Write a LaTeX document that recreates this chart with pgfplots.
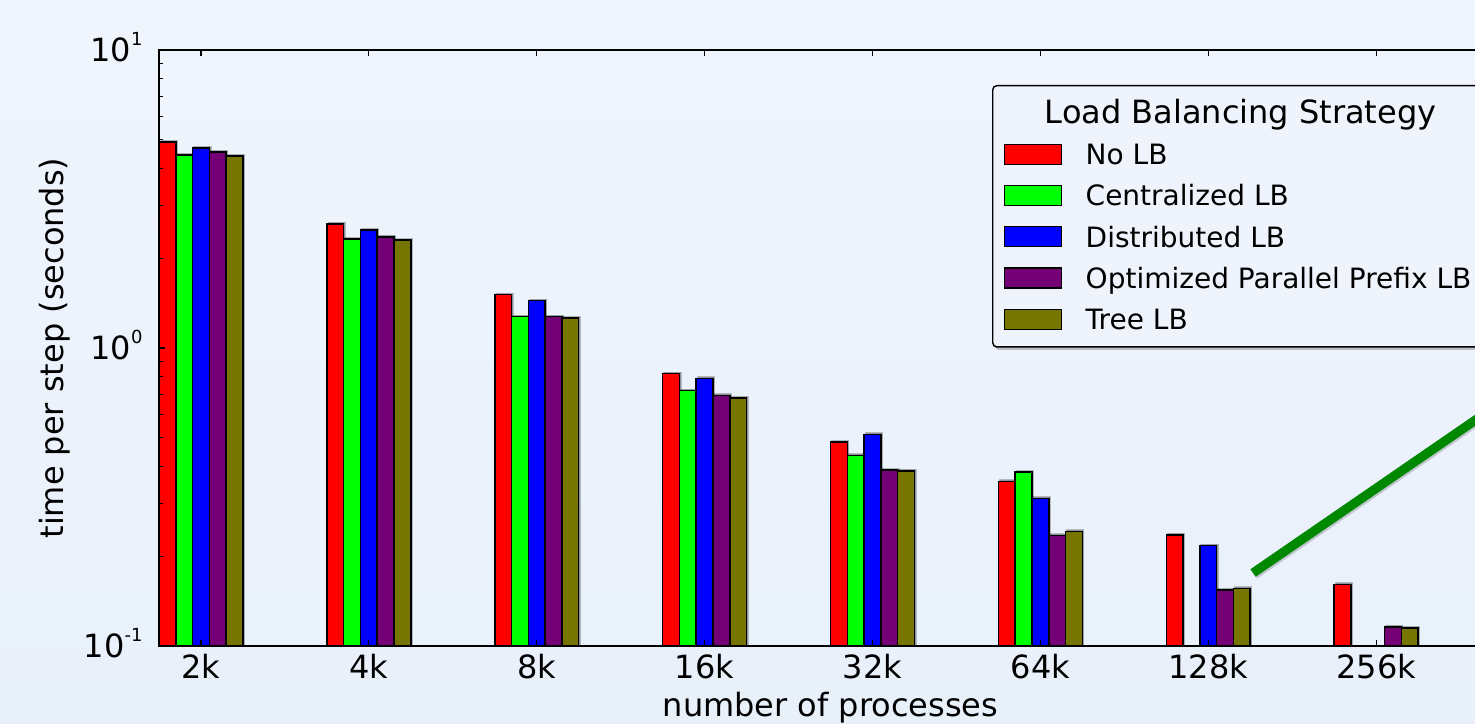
\documentclass[border=0pt]{standalone}
\usepackage{pgfplots}
\pgfplotsset{compat=1.18}
\usepackage{pgfplotstable}
\usepackage{fontspec}
\setmainfont{DejaVu Sans}
\usetikzlibrary{shadows}

\definecolor{bgtop}{RGB}{240,245,253}
\definecolor{bgbot}{RGB}{232,240,250}
\colorlet{legbg}{bgtop!70!bgbot}
\definecolor{lbred}{RGB}{255,0,0}
\definecolor{lbgreen}{RGB}{0,255,0}
\definecolor{lbblue}{RGB}{0,0,255}
\definecolor{lbpurple}{RGB}{117,0,117}
\definecolor{lbolive}{RGB}{117,117,0}
\definecolor{lbline}{RGB}{0,136,0}

% drop any inherited pre-actions (shadows) on a path
\makeatletter
\tikzset{no preactions/.code={\let\tikz@preactions\pgfutil@empty}}
\makeatother

% time per step (s) for each process count (index 0..7 = 2k..256k)
\pgfplotstableread{
x  nolb   central dist   opp    tree
0  4.91   4.44    4.69   4.55   4.41
1  2.61   2.32    2.49   2.36   2.30
2  1.51   1.274   1.441  1.274  1.26
3  0.820  0.719   0.791  0.694  0.680
4  0.483  0.436   0.513  0.389  0.387
5  0.357  0.383   0.313  0.235  0.242
6  0.236  nan     0.217  0.154  0.156
7  0.161  nan     nan    0.116  0.115
}\lbdata

\pgfplotsset{
  lbbar/.style={ybar, bar width=0.1, fill=#1, draw=black, line width=0.75pt,
    preaction={fill=black, opacity=0.22,
      transform canvas={xshift=0.7pt, yshift=0.7pt}},
    legend image code/.code={
      \draw[no preactions, sharp corners, fill=#1, draw=black, line width=0.6pt]
        (0pt,-5pt) rectangle (28.5pt,5pt);
      \path (40.2pt,0pt);
    }},
}

\begin{document}
\begin{tikzpicture}
\useasboundingbox (0,0) rectangle (737.5pt,361.5pt);
\clip (0,0) rectangle (737.5pt,361.5pt);
\shade[top color=bgtop, bottom color=bgbot] (0,0) rectangle (737.5pt,361.5pt);
\begin{axis}[
  at={(79.5pt,38.5pt)}, anchor=south west,
  scale only axis, width=671.5pt, height=298pt,
  ymode=log, log origin=infty,
  xmin=-0.25, xmax=7.75, ymin=0.1, ymax=10,
  xtick={0,...,7},
  xticklabels={2k,4k,8k,16k,32k,64k,128k,256k},
  ytick={0.1,1,10},
  yticklabels={
    {10\raisebox{8pt}{\fontsize{9}{9}\selectfont -1}},
    {10\raisebox{8pt}{\fontsize{9}{9}\selectfont 0}},
    {10\raisebox{8pt}{\fontsize{9}{9}\selectfont 1}}},
  tick align=inside,
  major tick length=3pt, minor tick length=2pt,
  every tick/.style={black, line width=0.6pt},
  axis line style={black, line width=0.8pt},
  axis on top,
  tick label style={font=\fontsize{16}{19}\selectfont},
  xticklabel style={anchor=base, inner sep=0pt, yshift=-16pt},
  yticklabel style={anchor=base east, inner sep=0pt, xshift=-8pt, yshift=-5.8pt},
  xlabel={number of processes},
  ylabel={time per step (seconds)},
  label style={font=\fontsize{16}{19}\selectfont},
  xlabel style={at={(axis description cs:0.5,-0.1186)}, anchor=base, inner sep=0pt},
  ylabel style={at={(axis description cs:-0.0711,0.5)}, anchor=base, inner sep=0pt},
  legend cell align=left,
  legend style={
    at={(axis description cs:0.6203,0.9413)}, anchor=north west,
    draw=black, line width=0.7pt, fill=legbg, rounded corners=2pt,
    drop shadow={shadow xshift=1.0pt, shadow yshift=-1.5pt, fill=black, opacity=0.22},
    inner xsep=5.6pt, inner ysep=7.4pt, row sep=7.8pt,
    font=\fontsize{14}{17}\selectfont,
    nodes={inner sep=0pt, text height=11.5pt, text depth=1.3pt},
  },
]
\addlegendimage{empty legend}
\addlegendentry{\hspace*{-20.5pt}\fontsize{16}{19}\selectfont Load Balancing Strategy}

\addplot[lbbar=lbred,    bar shift=-0.2] table[x=x, y=nolb]{\lbdata};
\addlegendentry{No LB}
\addplot[lbbar=lbgreen,  bar shift=-0.1] table[x=x, y=central]{\lbdata};
\addlegendentry{Centralized LB}
\addplot[lbbar=lbblue,   bar shift=0]    table[x=x, y=dist]{\lbdata};
\addlegendentry{Distributed LB}
\addplot[lbbar=lbpurple, bar shift=0.1]  table[x=x, y=opp]{\lbdata};
\addlegendentry{Optimized Parallel Prefix LB}
\addplot[lbbar=lbolive,  bar shift=0.2]  table[x=x, y=tree]{\lbdata};
\addlegendentry{Tree LB}

% highlight stroke pointing at the large-scale results
\addplot[forget plot, draw=lbline, line width=4.6pt, line cap=butt,
  preaction={draw=black, opacity=0.18, line width=4.6pt,
    transform canvas={xshift=0.8pt, yshift=-0.8pt}}]
  coordinates {(6.267,0.1758) (8.0,0.825)};
\end{axis}
\end{tikzpicture}
\end{document}
